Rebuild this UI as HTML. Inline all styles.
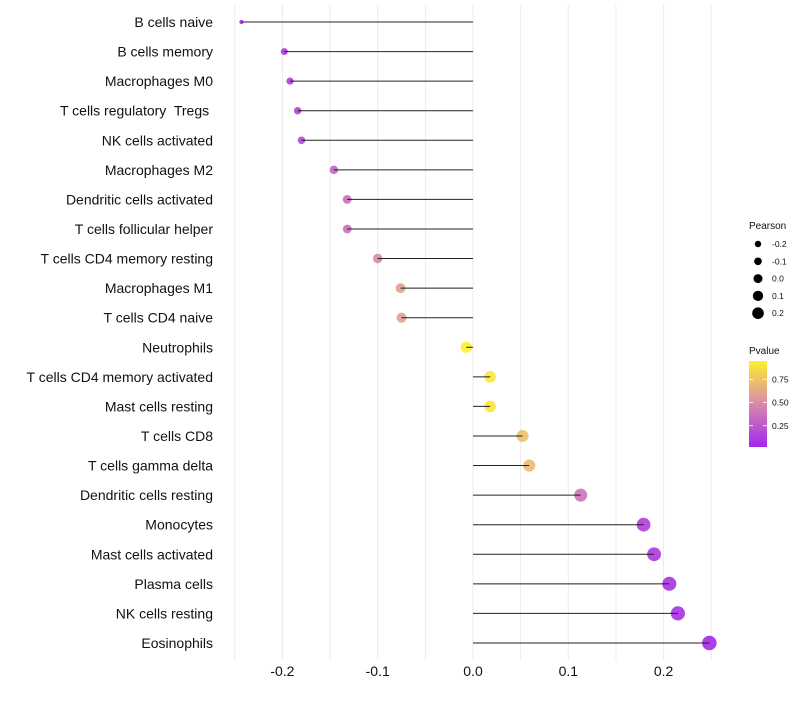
<!DOCTYPE html>
<html><head><meta charset="utf-8"><style>
body{margin:0;background:#fff;}
svg{font-family:"Liberation Sans",sans-serif;}
text{white-space:pre;}
</style></head><body>
<svg id="chart" width="800" height="700" xmlns="http://www.w3.org/2000/svg"></svg>
<script>
const categories=["B cells naive","B cells memory","Macrophages M0","T cells regulatory  Tregs ","NK cells activated","Macrophages M2","Dendritic cells activated","T cells follicular helper","T cells CD4 memory resting","Macrophages M1","T cells CD4 naive","Neutrophils","T cells CD4 memory activated","Mast cells resting","T cells CD8","T cells gamma delta","Dendritic cells resting","Monocytes","Mast cells activated","Plasma cells","NK cells resting","Eosinophils"];
const pearson=[-0.243,-0.198,-0.192,-0.184,-0.180,-0.146,-0.132,-0.132,-0.100,-0.076,-0.075,-0.007,0.018,0.018,0.052,0.059,0.113,0.179,0.190,0.206,0.215,0.248];
const pvalue=[0.05,0.12,0.13,0.17,0.18,0.3,0.35,0.36,0.48,0.6,0.6,0.97,0.93,0.93,0.75,0.72,0.38,0.14,0.12,0.09,0.08,0.04];
const xTicks=[-0.2,-0.1,0.0,0.1,0.2];
const xTickLabels=["-0.2","-0.1","0.0","0.1","0.2"];
const sizeLegend=[-0.2,-0.1,0.0,0.1,0.2];
const colorTicks=[0.25,0.5,0.75];

const svg=document.getElementById('chart');
const NS="http://www.w3.org/2000/svg";
function el(t,a,p){const e=document.createElementNS(NS,t);for(const k in a)e.setAttribute(k,a[k]);(p||svg).appendChild(e);return e;}
const x=v=>473+v*953;
const y=i=>22+i*29.57;
const r=v=>1.8+7.8*Math.sqrt(Math.max(0,v+0.245));
function lerp(a,b,t){return a.map((c,i)=>Math.round(c+(b[i]-c)*t));}
function col(p){const s=[[160,32,240],[218,140,170],[255,245,40]];let c=p<0.5?lerp(s[0],s[1],p/0.5):lerp(s[1],s[2],(p-0.5)/0.5);return `rgb(${c.join(',')})`;}

for(let v=-0.25;v<=0.2501;v+=0.05){
  const g=el('line',{x1:x(v),x2:x(v),y1:5,y2:660,stroke:'#ebebeb','stroke-width':1});
  
  
}
xTicks.forEach((v,i)=>{
  const t=el('text',{x:x(v),y:676,'text-anchor':'middle','font-size':14,fill:'#111'});
  t.textContent=xTickLabels[i];
  
  
});
categories.forEach((c,i)=>{
  const t=el('text',{x:213,y:y(i)+5,'text-anchor':'end','font-size':14,fill:'#111'});
  t.textContent=c;
  
  
  const ln=el('line',{x1:x(0),x2:x(pearson[i]),y1:y(i),y2:y(i),stroke:'#222','stroke-width':1});
  
  
  const d=el('circle',{cx:x(pearson[i]),cy:y(i),r:r(pearson[i]),fill:col(pvalue[i]),opacity:0.9});
  
  
  const ln2=el('line',{x1:x(pearson[i]),x2:x(pearson[i])+Math.sign(-pearson[i])*r(pearson[i]),y1:y(i),y2:y(i),stroke:'#222','stroke-width':1});
  
  
});
const lt=el('text',{x:749,y:229,'font-size':10,fill:'#111'});lt.textContent='Pearson';


sizeLegend.forEach((v,i)=>{
  const cy=244+i*17.3;
  const c=el('circle',{cx:758,cy:cy,r:3.2+(v+0.2)*6.5,fill:'#000'});
  
  
  const t=el('text',{x:772,y:cy+3,'font-size':8.5,fill:'#111'});t.textContent=v.toFixed(1);
  
  
});
const ct=el('text',{x:749,y:354,'font-size':10,fill:'#111'});ct.textContent='Pvalue';


const defs=el('defs',{});
const lg=el('linearGradient',{id:'pg',x1:0,y1:1,x2:0,y2:0},defs);
el('stop',{offset:'0',  'stop-color':col(0.03)},lg);
el('stop',{offset:'0.5','stop-color':col(0.49)},lg);
el('stop',{offset:'1','stop-color':col(0.97)},lg);
const cb=el('rect',{x:749,y:361,width:18,height:86,fill:'url(#pg)'});


colorTicks.forEach(v=>{
  const cy=449-v*93;
  el('line',{x1:749,x2:753,y1:cy,y2:cy,stroke:'#fff','stroke-width':0.8});
  el('line',{x1:763,x2:767,y1:cy,y2:cy,stroke:'#fff','stroke-width':0.8});
  const t=el('text',{x:772,y:cy+3,'font-size':8.5,fill:'#111'});t.textContent=v.toFixed(2);
  
  
});
</script>
</body></html>
